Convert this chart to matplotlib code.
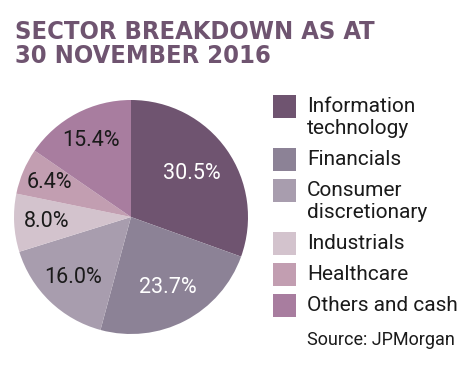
import matplotlib.pyplot as plt
from matplotlib.patches import Rectangle

# -------------------------
# Data
# -------------------------
sectors = ["Information\ntechnology", "Financials", "Consumer\ndiscretionary",
           "Industrials", "Healthcare", "Others and cash"]
weights = [30.5, 23.7, 16.0, 8.0, 6.4, 15.4]
colours = ["#6f5470", "#8c8296", "#a89dae", "#d3c3cd", "#c29eb1", "#a87d9f"]
label_colours = ["white", "white", "#1a1a1a", "#1a1a1a", "#1a1a1a", "#1a1a1a"]
# radial distance of each percentage label (fraction of radius)
label_dist = [0.64, 0.68, 0.72, 0.72, 0.76, 0.74]

TITLE = "SECTOR BREAKDOWN AS AT\n30 NOVEMBER 2016"
SOURCE = "Source: JPMorgan"

W, H = 475, 366
fig = plt.figure(figsize=(W / 100, H / 100), dpi=100)
fig.patch.set_facecolor("white")

# pie axes: centre ~ (131, 217) px, radius ~117 px
ax = fig.add_axes([14 / W, (H - 217 - 117) / H, 234 / W, 234 / H])
wedges, texts, autotexts = ax.pie(
    weights, colors=colours, startangle=90, counterclock=False,
    autopct=lambda p: f"{p:.1f}%", pctdistance=0.7,
    wedgeprops=dict(linewidth=0),
    textprops=dict(fontsize=15.5, family="Roboto"),
)
for t, c, d in zip(autotexts, label_colours, label_dist):
    x, y = t.get_position()
    t.set_position((x / 0.7 * d, y / 0.7 * d))
    t.set_color(c)
ax.set_xlim(-1, 1)
ax.set_ylim(-1, 1)
ax.set_aspect("equal")

# title
fig.text(15 / W, 1 - 20 / H, TITLE, ha="left", va="top",
         fontsize=18.3, fontweight="bold", family="DejaVu Sans",
         fontstretch="condensed", color="#6f5470", linespacing=1.0)

# legend, drawn by hand so each swatch sits beside the first text line
sq = 23
line_h = 22
top = 95
for w, name in zip(wedges, sectors):
    fig.patches.append(Rectangle((273 / W, 1 - (top + sq) / H), sq / W, sq / H,
                                 transform=fig.transFigure, figure=fig,
                                 facecolor=w.get_facecolor(), linewidth=0))
    for i, line in enumerate(name.split("\n")):
        fig.text(307 / W, 1 - (top + 17 + i * line_h) / H, line,
                 ha="left", va="baseline", fontsize=15, family="Roboto",
                 color="#1a1a1a")
    top += line_h * len(name.split("\n")) + 9

fig.text(307 / W, 1 - 345 / H, SOURCE, ha="left", va="baseline",
         fontsize=13, family="Roboto", color="#1a1a1a")

fig.savefig("out.png", dpi=100)
